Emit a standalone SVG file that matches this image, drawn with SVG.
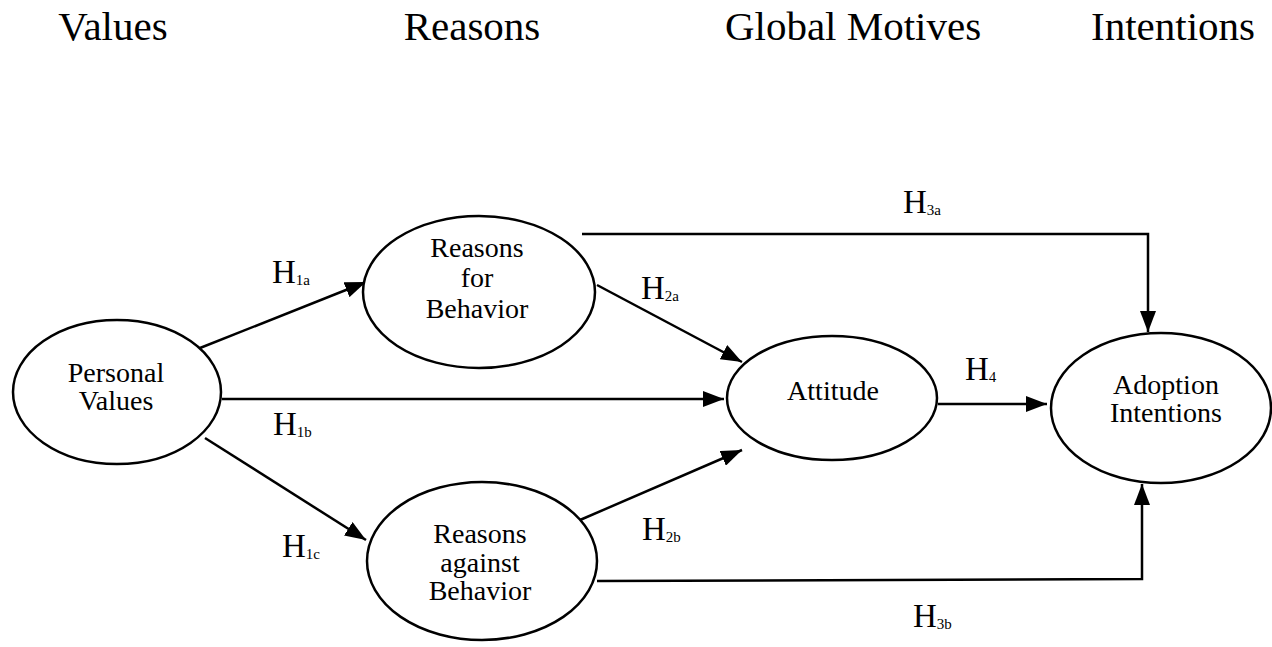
<svg xmlns="http://www.w3.org/2000/svg" width="1272" height="647" viewBox="0 0 1272 647">
<style>
.hdr{font-family:"Liberation Serif","Times New Roman",serif;font-size:41px;fill:#000;text-anchor:middle}
.lbl{font-family:"Liberation Serif","Times New Roman",serif;font-size:28px;fill:#000;text-anchor:middle}
.h{font-family:"Liberation Serif","Times New Roman",serif;font-size:33px;fill:#000}
.sub{font-size:15px}
.node ellipse{fill:#fff;stroke:#000;stroke-width:2.5}
.conn{fill:none;stroke:#000;stroke-width:2.5}
</style>
<defs>
<marker id="arr" markerUnits="userSpaceOnUse" markerWidth="22" markerHeight="16" refX="21" refY="8" orient="auto">
<path d="M0,0 L21,8 L0,16 z" fill="#000"/>
</marker>
</defs>
<rect width="1272" height="647" fill="#fff"/>
<g id="headers">
<text class="hdr" x="113" y="40">Values</text>
<text class="hdr" x="472" y="40">Reasons</text>
<text class="hdr" x="853" y="40">Global Motives</text>
<text class="hdr" x="1173" y="40">Intentions</text>
</g>
<g id="connectors">
<line class="conn" x1="200" y1="348" x2="366" y2="282" marker-end="url(#arr)"/>
<line class="conn" x1="222" y1="399" x2="724" y2="399" marker-end="url(#arr)"/>
<line class="conn" x1="205" y1="438" x2="366" y2="540" marker-end="url(#arr)"/>
<line class="conn" x1="597" y1="285" x2="742" y2="362" marker-end="url(#arr)"/>
<line class="conn" x1="580" y1="520" x2="742" y2="450" marker-end="url(#arr)"/>
<polyline class="conn" points="582,234 1148,234 1148,332" marker-end="url(#arr)"/>
<polyline class="conn" points="597,581 1142,579 1142,484" marker-end="url(#arr)"/>
<line class="conn" x1="938" y1="404" x2="1047" y2="404" marker-end="url(#arr)"/>
</g>
<g id="personal-values" class="node">
<ellipse cx="117" cy="392" rx="104" ry="72"/>
<text class="lbl" x="116" y="382">Personal</text>
<text class="lbl" x="116" y="410">Values</text>
</g>
<g id="reasons-for" class="node">
<ellipse cx="479" cy="292" rx="116" ry="76"/>
<text class="lbl" x="477" y="257">Reasons</text>
<text class="lbl" x="477" y="287">for</text>
<text class="lbl" x="477" y="318">Behavior</text>
</g>
<g id="reasons-against" class="node">
<ellipse cx="482" cy="561" rx="115" ry="79"/>
<text class="lbl" x="480" y="543">Reasons</text>
<text class="lbl" x="480" y="572">against</text>
<text class="lbl" x="480" y="600">Behavior</text>
</g>
<g id="attitude" class="node">
<ellipse cx="832" cy="398" rx="105" ry="62"/>
<text class="lbl" x="833" y="400">Attitude</text>
</g>
<g id="adoption-intentions" class="node">
<ellipse cx="1161" cy="408" rx="110" ry="75"/>
<text class="lbl" x="1166" y="394">Adoption</text>
<text class="lbl" x="1166" y="422">Intentions</text>
</g>
<g id="labels">
<text class="h" x="272" y="283">H<tspan class="sub" dy="2">1a</tspan></text>
<text class="h" x="273" y="435">H<tspan class="sub" dy="2">1b</tspan></text>
<text class="h" x="282" y="557">H<tspan class="sub" dy="2">1c</tspan></text>
<text class="h" x="641" y="299">H<tspan class="sub" dy="2">2a</tspan></text>
<text class="h" x="642" y="540">H<tspan class="sub" dy="2">2b</tspan></text>
<text class="h" x="903" y="213">H<tspan class="sub" dy="2">3a</tspan></text>
<text class="h" x="913" y="627">H<tspan class="sub" dy="2">3b</tspan></text>
<text class="h" x="965" y="380">H<tspan class="sub" dy="2">4</tspan></text>
</g>
</svg>
